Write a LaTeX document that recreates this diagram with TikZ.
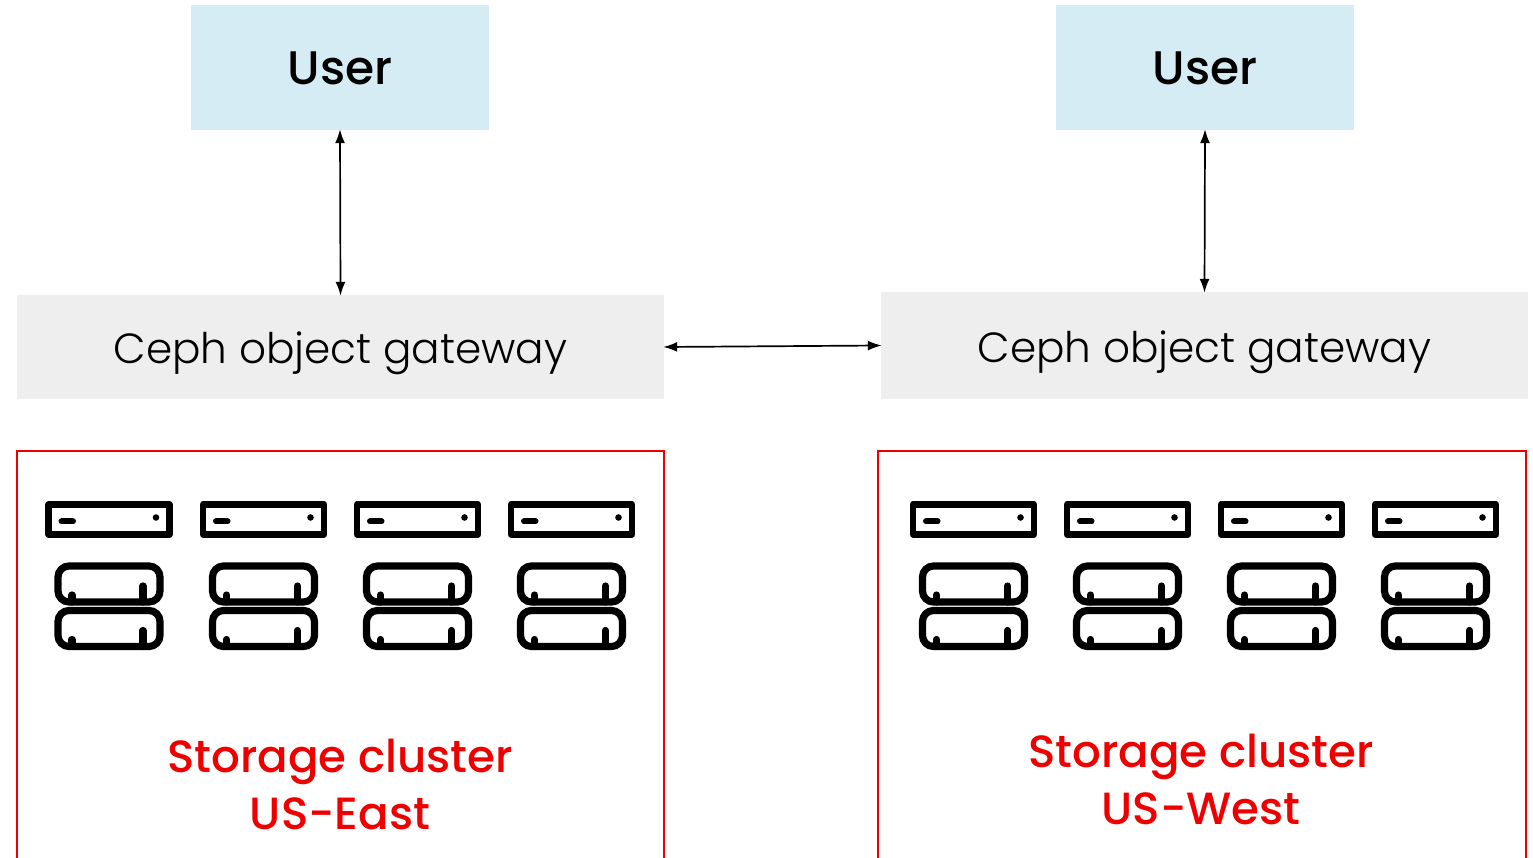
\documentclass[tikz,border=0pt]{standalone}
\usepackage{fontspec}
\setmainfont{Poppins Light}
\newfontfamily\mediumfont{Poppins Medium}
\usetikzlibrary{arrows.meta}

\definecolor{userblue}{HTML}{D6ECF4}
\definecolor{gatewaygray}{HTML}{EEEEEE}
\definecolor{clusterred}{HTML}{EE0000}

\tikzset{
  userbox/.style={fill=userblue, minimum width=2.98cm, minimum height=1.25cm, inner sep=0pt, text height=0.37cm, text depth=0.02cm, font=\fontsize{13.4}{15}\mediumfont},
  gatewaybox/.style={fill=gatewaygray, minimum width=6.47cm, inner sep=0pt, text height=0.42cm, text depth=0.08cm, font=\fontsize{12}{15}\selectfont},
  clusterlabel/.style={text=clusterred, align=center, font=\fontsize{12.85}{16.4}\mediumfont},
  clusterline/.style={draw=clusterred, line width=0.2mm},
  link/.style={{Latex[length=0.14cm,width=0.1cm]}-{Latex[length=0.14cm,width=0.1cm]}, line width=0.17mm, shorten >=-0.015cm, shorten <=-0.015cm},
  % one host of the top row
  hostunit/.pic={
    \draw[line width=0.65mm, line join=round] (-0.605,0.15) rectangle (0.605,-0.15);
    \draw[line width=0.6mm, line cap=round] (-0.475,-0.02) -- (-0.36,-0.02);
    \fill (0.47,0.02) circle (0.033);
  },
  % one disk of the two lower rows
  diskunit/.pic={
    \draw[line width=0.72mm, rounded corners=0.11cm] (-0.51,0.18) rectangle (0.51,-0.18);
    \draw[line width=0.72mm, line cap=round] (0.34,-0.18) -- (0.34,-0.02);
    \draw[line width=0.72mm, line cap=round] (-0.37,-0.18) -- (-0.37,-0.11);
  }
}

\begin{document}
\begin{tikzpicture}
  \useasboundingbox (0,0) rectangle (15.33,-8.58);

  % Users
  \node[userbox] (userEast) at (3.40,-0.675) {User};
  \node[userbox] (userWest) at (12.05,-0.675) {User};

  % Gateways
  \node[gatewaybox, minimum height=1.04cm] (gatewayEast) at (3.405,-3.47) {Ceph object gateway};
  \node[gatewaybox, minimum height=1.07cm] (gatewayWest) at (12.045,-3.455) {Ceph object gateway};

  % Links between them
  \draw[link] (userEast.south) -- (gatewayEast.north);
  \draw[link] (userWest.south) -- (gatewayWest.north);
  \draw[link] (gatewayEast.east) -- (gatewayWest.west);

  % Cluster frames run off the bottom of the page
  \draw[clusterline] (0.17,-8.58) |- (6.635,-4.51) -- (6.635,-8.58);
  \draw[clusterline] (8.78,-8.58) |- (15.255,-4.51) -- (15.255,-8.58);

  % Hosts and disks
  \foreach \x in {1.09,2.635,4.175,5.715,9.735,11.275,12.815,14.355} {
    \pic at (\x,-5.195) {hostunit};
    \pic at (\x,-5.84) {diskunit};
    \pic at (\x,-6.285) {diskunit};
  }

  % Cluster labels
  \node[clusterlabel] (labelEast) at (3.40,-7.845) {Storage cluster\\US-East};
  \node[clusterlabel] (labelWest) at (12.01,-7.795) {Storage cluster\\US-West};

\end{tikzpicture}
\end{document}
